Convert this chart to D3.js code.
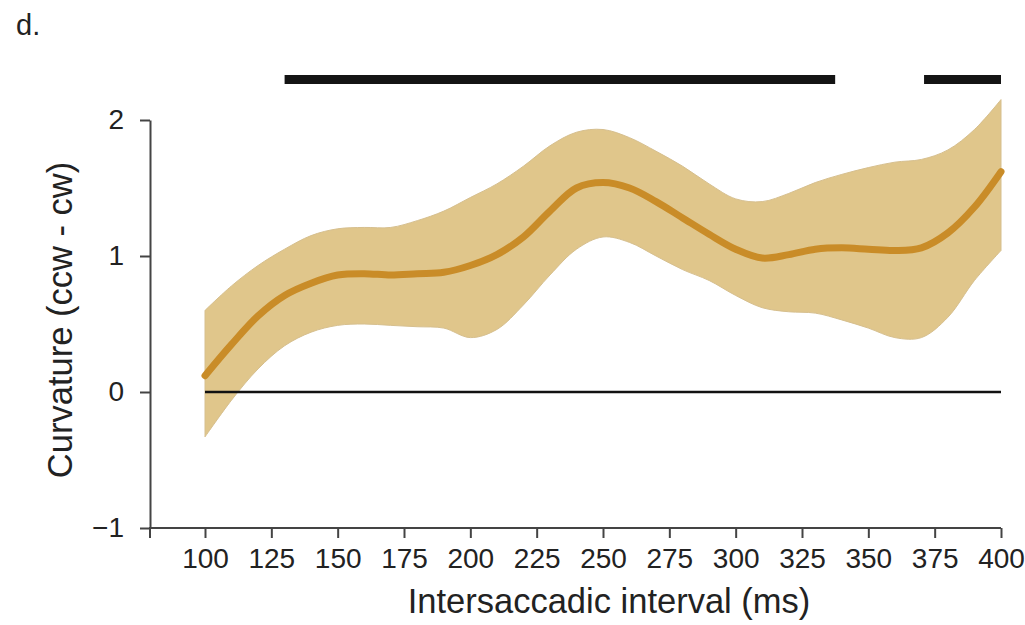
<!DOCTYPE html>
<meta charset="utf-8">
<script src="https://d3js.org/d3.v7.min.js"></script>
<style>
  body { margin: 0; background: #fff; }
  text { font-family: "Liberation Sans", Arial, sans-serif; fill: #222; }
</style>
<div id="chart"></div>
<script>
  // intersaccadic interval (ms) and curvature estimates
  const intervals = [100,110,120,130,140,150,160,170,180,190,200,210,220,230,240,250,
                     260,270,280,290,300,310,320,330,340,350,360,370,380,390,400];
  const meanCurv  = [0.12,0.35,0.56,0.71,0.80,0.86,0.87,0.86,0.87,0.88,0.93,1.01,1.14,1.33,1.50,1.54,
                     1.50,1.40,1.28,1.16,1.05,0.985,1.01,1.05,1.06,1.05,1.04,1.06,1.17,1.36,1.62];
  const upperCurv = [0.60,0.78,0.93,1.05,1.15,1.20,1.21,1.21,1.26,1.33,1.43,1.53,1.66,1.81,1.91,1.93,
                     1.87,1.77,1.66,1.53,1.42,1.40,1.46,1.54,1.60,1.65,1.69,1.71,1.78,1.93,2.15];
  const lowerCurv = [-0.33,-0.06,0.17,0.34,0.44,0.49,0.50,0.49,0.48,0.47,0.40,0.46,0.64,0.86,1.05,1.14,
                     1.10,1.00,0.90,0.82,0.71,0.62,0.59,0.58,0.53,0.47,0.40,0.40,0.55,0.82,1.04];
  // significant clusters (ms)
  const sigBars = [[130, 337.5], [371, 400]];
  const xTicks = [100,125,150,175,200,225,250,275,300,325,350,375,400];
  const yTicks = [-1, 0, 1, 2];

  const W = 1025, H = 625;
  const svg = d3.select("#chart").append("svg")
    .attr("width", W).attr("height", H);

  const x = d3.scaleLinear().domain([100, 400]).range([205, 1001]);
  const y = d3.scaleLinear().domain([-1, 2]).range([528, 120]);
  const axisLeftX = 150;

  const data = intervals.map((t, i) => ({t, m: meanCurv[i], lo: lowerCurv[i], hi: upperCurv[i]}));

  // confidence band
  svg.append("path")
    .datum(data)
    .attr("fill", "#e0c68b")
    .attr("stroke", "#d6bf8e")
    .attr("stroke-width", 1)
    .attr("d", d3.area()
      .x(d => x(d.t))
      .y0(d => y(d.lo))
      .y1(d => y(d.hi))
      .curve(d3.curveCatmullRom));

  // zero line
  svg.append("line")
    .attr("x1", x(100)).attr("x2", x(400))
    .attr("y1", y(0)).attr("y2", y(0))
    .attr("stroke", "#111").attr("stroke-width", 2.5);

  // mean
  svg.append("path")
    .datum(data)
    .attr("fill", "none")
    .attr("stroke", "#c98c28")
    .attr("stroke-width", 7)
    .attr("stroke-linecap", "round")
    .attr("d", d3.line()
      .x(d => x(d.t))
      .y(d => y(d.m))
      .curve(d3.curveCatmullRom));

  // significance bars
  svg.selectAll(".sig")
    .data(sigBars)
    .join("line")
    .attr("x1", d => x(d[0])).attr("x2", d => x(d[1]))
    .attr("y1", 79.5).attr("y2", 79.5)
    .attr("stroke", "#141414").attr("stroke-width", 9);

  // x axis
  const gx = svg.append("g")
    .attr("transform", `translate(0,${y(-1)})`)
    .call(d3.axisBottom(x).tickValues(xTicks).tickSize(10).tickSizeOuter(0).tickPadding(10));
  gx.select(".domain").attr("d", `M${axisLeftX},10V0H${x(400)}`);

  // y axis
  const gy = svg.append("g")
    .attr("transform", `translate(${axisLeftX},0)`)
    .call(d3.axisLeft(y).tickValues(yTicks).tickSize(10).tickSizeOuter(0).tickPadding(16)
      .tickFormat(d3.format("d")));

  [gx, gy].forEach(g => {
    g.select(".domain").attr("stroke", "#444").attr("stroke-width", 2);
    g.selectAll(".tick line").attr("stroke", "#444").attr("stroke-width", 2);
    g.selectAll(".tick text").style("font-size", "28px").attr("fill", "#1e1e1e")
      .style("font-family", "'Liberation Sans', Arial, sans-serif");
  });

  // labels
  svg.append("text")
    .attr("x", 609).attr("y", 613)
    .attr("text-anchor", "middle")
    .style("font-size", "34.5px")
    .text("Intersaccadic interval (ms)");

  svg.append("text")
    .attr("transform", "translate(72,320) rotate(-90)")
    .attr("text-anchor", "middle")
    .style("font-size", "34.5px")
    .text("Curvature (ccw - cw)");

  svg.append("text")
    .attr("x", 16).attr("y", 35)
    .style("font-size", "29px")
    .text("d.");
</script>
